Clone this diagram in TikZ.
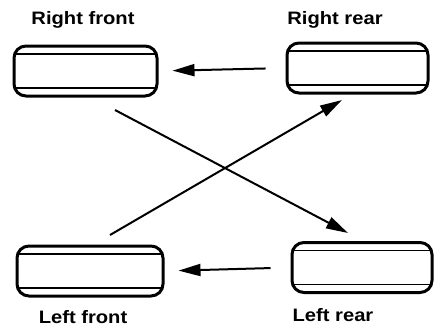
\documentclass[tikz,border=0pt]{standalone}
\usepackage{fontspec}
\setmainfont{Liberation Sans}
\newfontfamily\lblfont[FakeStretch=1.12]{Liberation Sans}
\usetikzlibrary{arrows.meta}
\tikzset{
  tire/.style={draw, line width=3pt, rounded corners=12pt, inner sep=0pt,
    minimum width=#1, minimum height=50pt,
    path picture={
      \draw[line width=1.4pt] ([yshift=-8pt]path picture bounding box.north west) -- ([yshift=-8pt]path picture bounding box.north east);
      \draw[line width=1.4pt] ([yshift=8pt]path picture bounding box.south west) -- ([yshift=8pt]path picture bounding box.south east);
    }},
  lbl/.style={font=\lblfont\bfseries\fontsize{18}{21}\selectfont, inner sep=0pt},
  arr/.style={line width=2pt, -{Triangle[length=22pt,width=12pt]}}
}
\begin{document}
\begin{tikzpicture}[x=1pt,y=-1pt]
\useasboundingbox (0,0) rectangle (435,330);
\node[tire=143pt] (rf) at (85.5,71) {};
\node[tire=141pt] (rr) at (357.5,68) {};
\node[tire=146pt] (lf) at (90,271) {};
\node[tire=140pt] (lr) at (362,267.5) {};
\node[lbl] (trf) at (83,20) {Right front};
\node[lbl] (trr) at (335,20) {Right rear};
\node[lbl] (tlf) at (83,317) {Left front};
\node[lbl] (tlr) at (333,315) {Left rear};
\coordinate (c1s) at (115,110);
\coordinate (c1e) at (348,233);
\coordinate (c2s) at (110,235);
\coordinate (c2e) at (342,100);
\draw[arr, shorten <=20pt, shorten >=14pt] (rr.west) -- (rf.east);
\draw[arr, shorten <=20pt, shorten >=14pt] (lr.west) -- (lf.east);
\draw[arr] (c1s) -- (c1e);
\draw[arr] (c2s) -- (c2e);
\end{tikzpicture}
\end{document}
